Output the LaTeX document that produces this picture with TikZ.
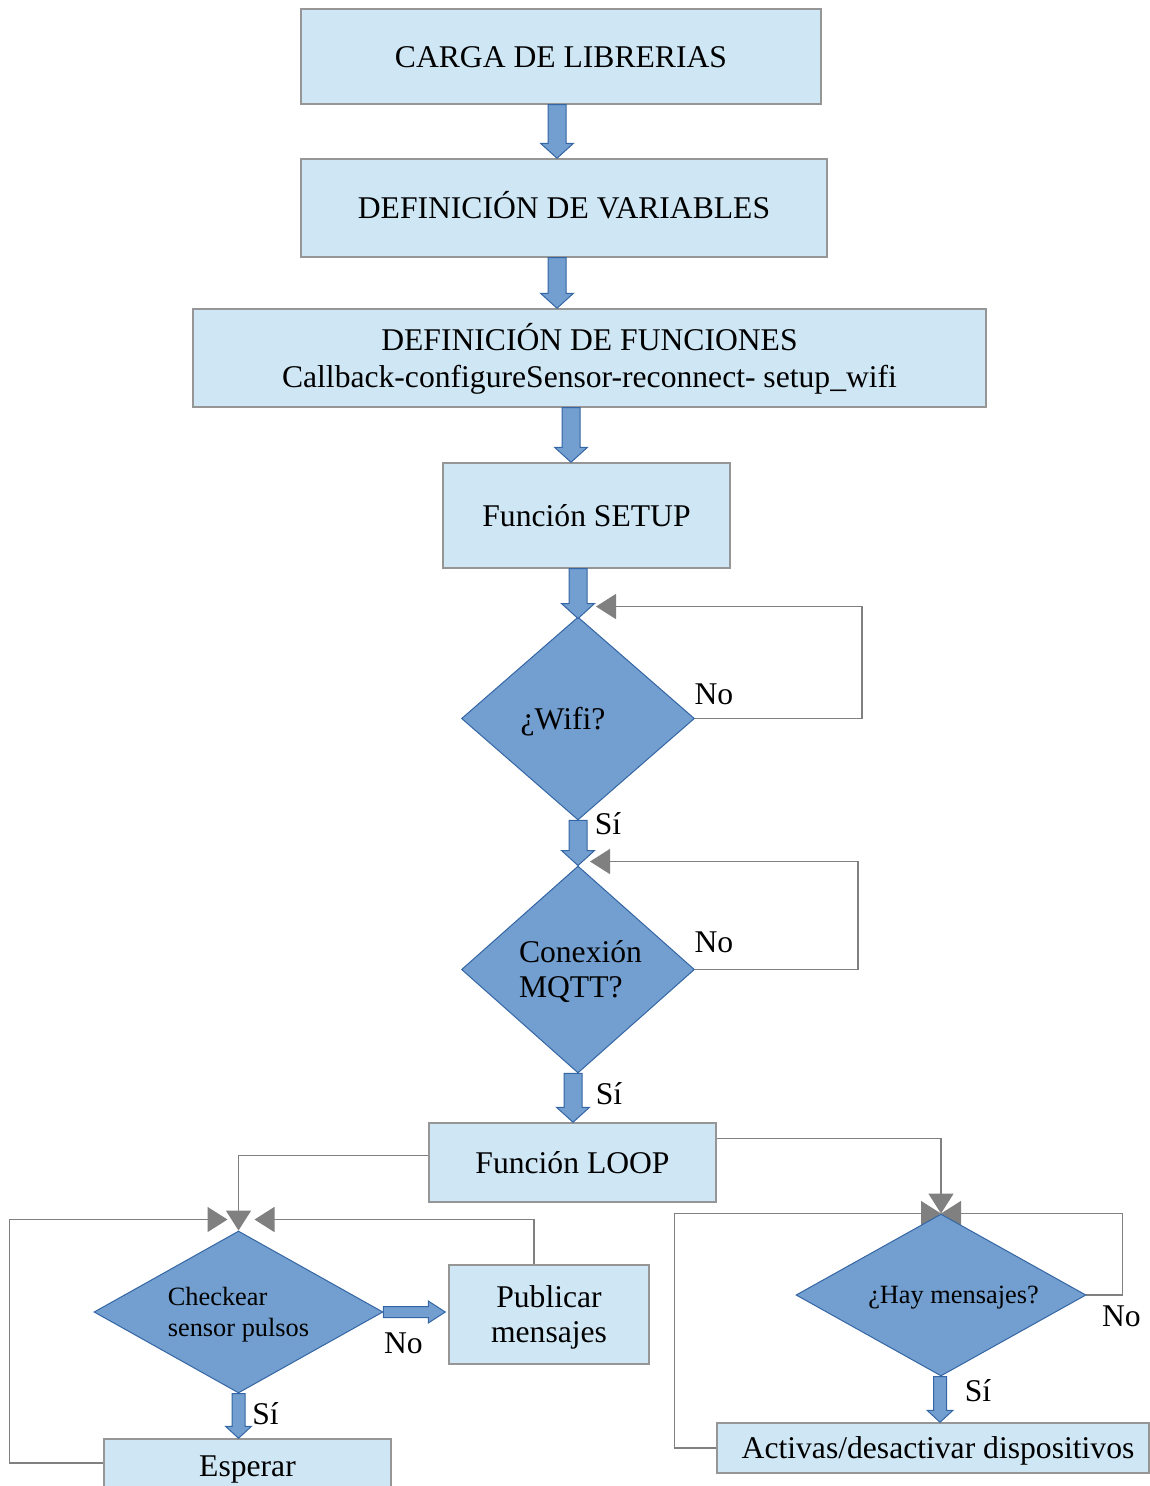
\documentclass[tikz,border=0pt]{standalone}
\usepackage{fontspec}
\setmainfont{Liberation Serif}
\usetikzlibrary{shapes.geometric,arrows.meta,calc,backgrounds}

\definecolor{boxblue}{RGB}{207,231,245}
\definecolor{boxline}{RGB}{150,150,150}
\definecolor{diafill}{RGB}{114,159,207}
\definecolor{dialine}{RGB}{52,101,164}
\definecolor{loopgray}{RGB}{128,128,128}

\newcommand{\linestrut}{\rule[-0.216em]{0pt}{1.107em}}

\begin{document}
\begin{tikzpicture}[
  x=0.02cm, y=-0.02cm,
  box/.style={draw=boxline, line width=0.03cm, fill=boxblue, inner sep=0pt,
    align=center, font=\fontsize{18}{21}\selectfont,
    execute at begin node=\linestrut, execute at end node=\linestrut},
  decision/.style={diamond, draw=dialine, line width=0.02cm, fill=diafill,
    inner sep=0pt, align=left, font=\fontsize{18}{20}\selectfont,
    execute at begin node=\linestrut, execute at end node=\linestrut},
  smalltext/.style={font=\fontsize{15}{18}\selectfont},
  answer/.style={inner sep=0pt, font=\fontsize{18}{21}\selectfont},
  loopback/.style={draw=loopgray, line width=0.03cm,
    -{Triangle[length=0.4cm, width=0.5cm]}},
  fat down/.style n args={3}{fill=diafill, draw=dialine, line width=0.02cm,
    to path={let \p1=(\tikztostart), \p2=(\tikztotarget) in
      (\x1-#1,\y1) -- (\x1-#1,\y2+#3) -- (\x1-#2,\y2+#3) -- (\x1,\y2)
      -- (\x1+#2,\y2+#3) -- (\x1+#1,\y2+#3) -- (\x1+#1,\y1) -- cycle}},
  fat right/.style n args={3}{fill=diafill, draw=dialine, line width=0.02cm,
    to path={let \p1=(\tikztostart), \p2=(\tikztotarget) in
      (\x1,\y1-#1) -- (\x2-#3,\y1-#1) -- (\x2-#3,\y1-#2) -- (\x2,\y1)
      -- (\x2-#3,\y1+#2) -- (\x2-#3,\y1+#1) -- (\x1,\y1+#1) -- cycle}},
  big/.style={fat down={0.18cm}{0.33cm}{0.3cm}},
  little/.style={fat down={0.13cm}{0.26cm}{0.24cm}},
]
  \useasboundingbox (0,0) rectangle (1149,1486);

  \node[box, minimum width=10.4cm, minimum height=1.9cm] (libs) at (561,56.5)
    {CARGA DE LIBRERIAS};
  \node[box, minimum width=10.52cm, minimum height=1.96cm] (vars) at (564,208)
    {DEFINICIÓN DE VARIABLES};
  \node[box, minimum width=15.86cm, minimum height=1.96cm] (funcs) at (589.5,358)
    {\linestrut DEFINICIÓN DE FUNCIONES\\Callback-configureSensor-reconnect- setup\_wifi};
  \node[box, minimum width=5.74cm, minimum height=2.1cm] (setup) at (586.5,515.5)
    {Función SETUP};
  \node[decision, minimum width=4.66cm, minimum height=4.06cm, aspect=1.15]
    (wifi) at (578,718.5) {¿Wifi?\hspace{0.6cm}};
  \node[decision, minimum width=4.66cm, minimum height=4.14cm, aspect=1.13]
    (mqtt) at (578,969.5) {\linestrut\hspace{0.1cm}Conexión\\\hspace{0.1cm}MQTT?};
  \node[box, minimum width=5.74cm, minimum height=1.58cm] (loop) at (572.5,1162.5)
    {Función LOOP};
  \node[decision, smalltext, minimum width=5.78cm, minimum height=3.24cm, aspect=1.78]
    (check) at (238.5,1312) {\linestrut Checkear\\sensor pulsos};
  \node[box, font=\fontsize{18}{20}\selectfont, minimum width=4cm, minimum height=1.98cm]
    (pub) at (549,1314.5) {\linestrut Publicar\\mensajes};
  \node[box, minimum width=5.74cm, minimum height=1.08cm] (wait) at (247.5,1466)
    {Esperar};
  \node[decision, smalltext, minimum width=5.8cm, minimum height=3.24cm, aspect=1.79]
    (hay) at (941,1295) {\hspace{0.5cm}¿Hay mensajes?};
  \node[box, minimum width=8.64cm, minimum height=1cm] (act) at (933,1448)
    {\hspace{0.2cm}Activas/desactivar dispositivos};

  \draw[big] ($(libs.south)+(-4,0)$) to (vars.north);
  \draw[big] ($(vars.south)+(-7,0)$) to (funcs.north);
  \draw[big] ($(funcs.south)+(-18.5,0)$) to (setup.north);
  \draw[big] ($(setup.south)+(-8.5,0)$) to ($(wifi.north)+(0,2)$);
  \draw[big] (wifi.south) to (mqtt.north);
  \draw[big] ($(mqtt.south)+(-5,0)$) to (loop.north);
  \draw[little] (check.south) to (wait.north);
  \draw[little] ($(hay.south)+(-1,0)$) to (act.north);
  \draw[fat right={0.11cm}{0.22cm}{0.34cm}] (check.east) to ($(pub.west)+(-3,0)$);

  \node[answer] (wifino) at ($(wifi.east)+(19,-24)$) {No};
  \node[answer] (wifisi) at ($(wifi.south)+(30,3)$) {Sí};
  \node[answer] (mqttno) at ($(mqtt.east)+(19,-27)$) {No};
  \node[answer] (mqttsi) at ($(mqtt.south)+(31,20)$) {Sí};
  \node[answer] (checkno) at ($(check.east)+(20,31)$) {No};
  \node[answer] (checksi) at ($(check.south)+(27,20)$) {Sí};
  \node[answer] (hayno) at ($(hay.east)+(35,21)$) {No};
  \node[answer] (haysi) at ($(hay.south)+(37,14)$) {Sí};

  \begin{scope}[on background layer]
    \draw[loopback] (wifi.east) -- ++(167,0) |- ($(wifi.north)+(18,-10)$);
    \draw[loopback] (mqtt.east) -- ++(163,0) |- ($(mqtt.north)+(12,-4)$);
    \draw[loopback] ($(loop.west)+(0,-7)$) -| (check.north);
    \draw[loopback] ($(wait.west)+(0,-3)$) -- ++(-94,0) |- ($(check.north)+(-11,-11)$);
    \draw[loopback] ($(pub.north)+(-15,0)$) |- ($(check.north)+(16,-11)$);
    \draw[loopback] ($(loop.east)+(0,-24)$) -| (hay.north);
    \draw[loopback] (act.west) -- ++(-42,0) |- (hay.north);
    \draw[loopback] (hay.east) -- ++(36,0) |- (hay.north);
  \end{scope}
\end{tikzpicture}
\end{document}
